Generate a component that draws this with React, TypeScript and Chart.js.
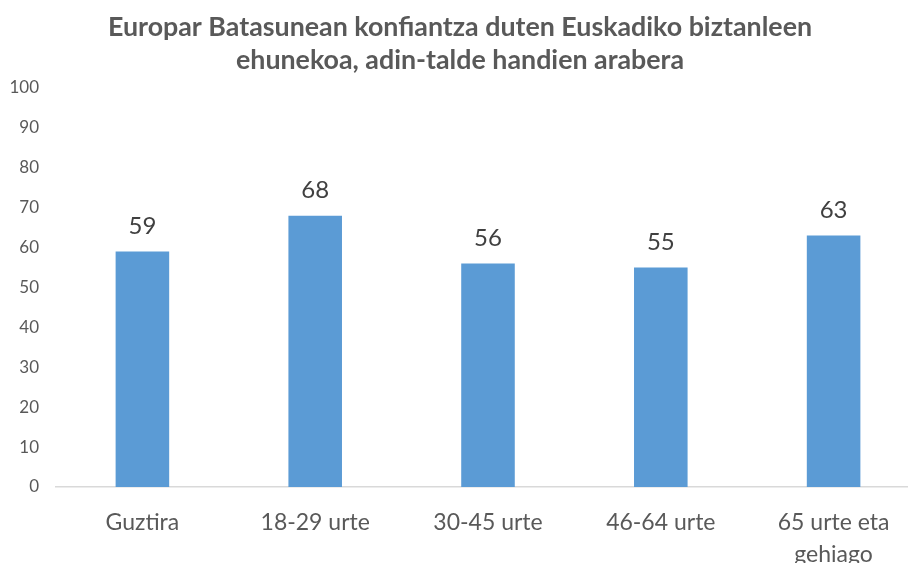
import React, { useEffect, useRef } from "react";
import { Chart, registerables } from "chart.js";

Chart.register(...registerables);

const categories: (string | string[])[] = [
  "Guztira",
  "18-29 urte",
  "30-45 urte",
  "46-64 urte",
  ["65 urte eta", "gehiago"],
];
const values: number[] = [59, 68, 56, 55, 63];
const titleLines: string[] = [
  "Europar Batasunean konfiantza duten Euskadiko biztanleen",
  "ehunekoa, adin-talde handien arabera",
];
const yMin = 0;
const yMax = 100;
const yStep = 10;

const FONT = "Lato";

const valueLabels = {
  id: "valueLabels",
  afterDatasetsDraw(chart: any) {
    const { ctx } = chart;
    const meta = chart.getDatasetMeta(0);
    ctx.save();
    ctx.font = `24px ${FONT}`;
    ctx.fillStyle = "#404040";
    ctx.textAlign = "center";
    ctx.textBaseline = "middle";
    meta.data.forEach((el: any, i: number) => {
      ctx.fillText(String(chart.data.datasets[0].data[i]), el.x, el.y - 25);
    });
    ctx.restore();
  },
};

export default function App() {
  const ref = useRef<HTMLCanvasElement>(null);
  useEffect(() => {
    if (!ref.current) return;
    const chart = new Chart(ref.current, {
      type: "bar",
      data: {
        labels: categories,
        datasets: [
          {
            data: values,
            backgroundColor: "#5B9BD5",
            categoryPercentage: 1,
            barPercentage: 0.31,
          },
        ],
      },
      options: {
        responsive: false,
        animation: false,
        layout: { padding: { left: 0, right: 25, top: 0, bottom: 0 } },
        plugins: {
          legend: { display: false },
          tooltip: { enabled: false },
          title: {
            display: true,
            text: titleLines,
            color: "#595959",
            font: { family: FONT, size: 26.8, weight: "bold", lineHeight: 1.23 },
            padding: { top: 11, bottom: 11 },
          },
        },
        scales: {
          x: {
            grid: { display: false, drawTicks: false },
            border: { display: true, color: "#D9D9D9", width: 1.5 },
            ticks: {
              color: "#595959",
              font: { family: FONT, size: 23, lineHeight: 1.4 },
              padding: 19,
              maxRotation: 0,
              autoSkip: false,
            },
            afterFit: (s: any) => {
              s.height = 113;
            },
          },
          y: {
            min: yMin,
            max: yMax,
            grid: { display: false, drawTicks: false },
            border: { display: false },
            ticks: {
              stepSize: yStep,
              color: "#595959",
              font: { family: FONT, size: 17 },
              padding: 17,
            },
            afterFit: (s: any) => {
              s.width = 56;
            },
          },
        },
      },
      plugins: [valueLabels],
    });
    return () => chart.destroy();
  }, []);
  return (
    <div
      style={{
        position: "absolute",
        left: 0,
        top: 0,
        width: 908,
        height: 563,
        overflow: "hidden",
        background: "#fff",
      }}
    >
      <canvas ref={ref} width={945} height={600} />
    </div>
  );
}
